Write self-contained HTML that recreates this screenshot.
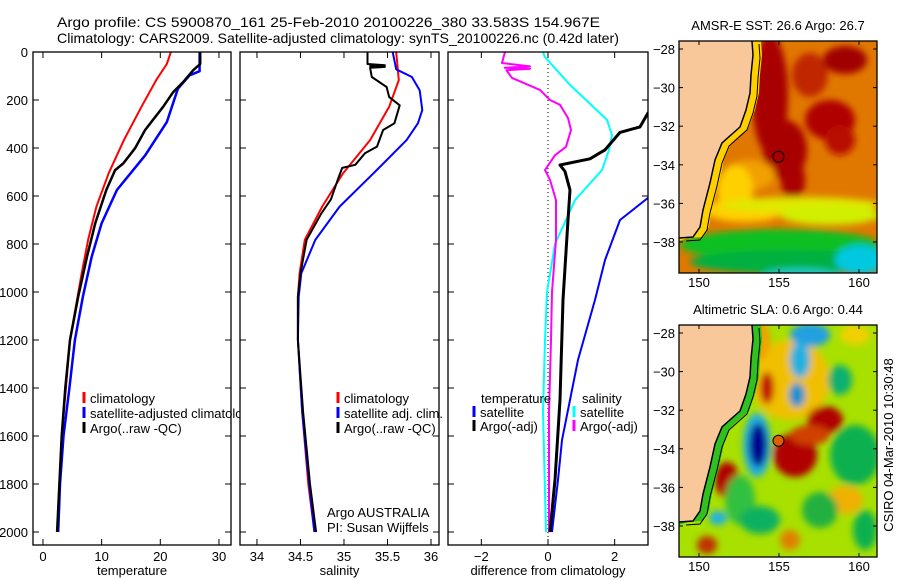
<!DOCTYPE html>
<html><head><meta charset="utf-8">
<style>
html,body{margin:0;background:#fff;overflow:hidden;width:900px;height:580px;}
svg{display:block;font-family:"Liberation Sans",sans-serif;}
text{fill:#000;}
</style></head>
<body>
<svg id="chart" width="900" height="580" viewBox="0 0 900 580" xmlns="http://www.w3.org/2000/svg">
<rect width="900" height="580" fill="#fff"/>
<text x="57" y="27" font-size="14" textLength="543" lengthAdjust="spacingAndGlyphs">Argo profile: CS 5900870_161 25-Feb-2010 20100226_380 33.583S 154.967E</text>
<text x="57" y="43" font-size="14" textLength="562" lengthAdjust="spacingAndGlyphs">Climatology: CARS2009. Satellite-adjusted climatology: synTS_20100226.nc (0.42d later)</text>
<g id="plots"></g>
<text transform="translate(893,445) rotate(-90)" text-anchor="middle" font-size="13">CSIRO 04-Mar-2010 10:30:48</text>
</svg>
<script>
// ---- depth axis ----
const depthTicks = [0,200,400,600,800,1000,1200,1400,1600,1800,2000];
// ---- temperature panel data (depth m, value) ----
const tempDepth = [0,50,117,228,367,505,644,783,922,1019,1200,1400,1600,1800,2000];
const tempClim = [21.8,21.1,19.3,16.8,13.8,11.2,9.1,7.7,6.6,5.9,4.6,3.9,3.2,2.8,2.5];
const argoTDepth = [0,50,76,125,167,228,325,401,464,492,575,714,853,1019,1200,1400,1600,1800,2000];
const argoTemp = [26.8,26.8,25.6,23.9,22.2,20.5,17.4,15.7,13.7,12.3,10.8,8.9,7.5,6.0,4.6,3.8,3.2,2.8,2.4];
const satTDepth = [0,80,97,153,292,431,575,714,853,1019,1200,1400,1600,1800,2000];
const satTemp = [26.7,26.7,25.0,23.0,21.1,17.4,12.6,10.0,8.3,6.8,5.45,4.5,3.5,2.9,2.6];
const tempTicks = [0,10,20,30];
// ---- salinity panel data ----
const salDepth = [0,117,228,367,505,644,783,922,1019,1200,1500,1800,2000];
const salClim = [35.6,35.63,35.52,35.3,34.99,34.75,34.55,34.49,34.47,34.47,34.52,34.59,34.66];
const satSDepth = [0,72,104,160,242,297,367,505,644,783,922,1019,1200,1500,1800,2000];
const satSal = [35.56,35.6,35.78,35.87,35.9,35.85,35.72,35.34,34.95,34.67,34.51,34.48,34.47,34.52,34.6,34.66];
const argoSDepth = [0,50,55,58,62,66,104,146,188,222,297,325,394,422,470,483,531,614,672,783,922,1019,1200,1500,1800,2000];
const argoSal = [35.27,35.27,35.47,35.3,35.47,35.3,35.32,35.49,35.52,35.64,35.58,35.45,35.38,35.24,35.13,34.98,34.93,34.85,34.74,34.57,34.5,34.47,34.47,34.53,34.61,34.68];
const salTicks = [34,34.5,35,35.5,36];
// ---- difference panel data ----
const dTArgoDepth = [150,254,312,335,408,420,445,471,498,575,700,1033,1450,1783,2000];
const dTArgo = [4.5,3.0,2.76,2.16,1.71,1.56,1.26,0.36,0.51,0.66,0.6,0.45,0.36,0.21,0.06];
const dTSatDepth = [450,608,700,867,1033,1283,1450,1617,1783,2000];
const dTSat = [4.0,3.0,2.16,1.71,1.41,0.9,0.66,0.42,0.3,0.12];
const dSSatDepth = [0,20,137,283,346,408,492,617,800,1000,1200,1500,2000];
const dSSat = [-0.15,-0.1,0.66,1.77,1.92,1.83,1.62,0.81,0.21,-0.03,-0.09,-0.15,-0.06];
const dSArgoDepth = [0,46,60,66,70,76,108,158,200,220,275,325,395,430,492,533,617,783,1000,1200,1500,2000];
const dSArgo = [-1.29,-1.38,-0.54,-1.3,-0.54,-1.25,-1.08,-0.24,0.06,0.36,0.6,0.69,0.54,0.21,-0.09,0.06,0.24,0.24,0.12,0.09,0.03,0.03];
const diffTicks = [-2,0,2];
// ---- maps ----
const lonTicks = [150,155,160];
const latTicks = [-28,-30,-32,-34,-36,-38];

const NS='http://www.w3.org/2000/svg';
const root=document.getElementById('plots');
function mk(tag,attrs,parent){const e=document.createElementNS(NS,tag);for(const k in attrs)e.setAttribute(k,attrs[k]);(parent||root).appendChild(e);return e;}
const Y0=52,Y1=545;
function yD(d){return 52+d*0.24;}

function panel(name,x0,x1,xmin,xmax,ticks,label,fmt){
  const g=mk('g',{});
  
  
  const sx=v=>x0+(v-xmin)/(xmax-xmin)*(x1-x0);
  mk('rect',{x:x0,y:Y0,width:x1-x0,height:Y1-Y0,fill:'#fff'},g);
  const cid='clip-'+name;
  const cp=mk('clipPath',{id:cid},g);mk('rect',{x:x0,y:Y0,width:x1-x0,height:Y1-Y0},cp);
  const inner=mk('g',{'clip-path':'url(#'+cid+')'},g);
  return {g,sx,inner,x0,x1,ticks,label,fmt};
}
function frame(p,showY){
  const g=p.g;
  const fr=mk('rect',{x:p.x0,y:Y0,width:p.x1-p.x0,height:Y1-Y0,fill:'none',stroke:'#000','stroke-width':1.3},g);
  
  
  depthTicks.forEach(d=>{
    const y=yD(d);
    mk('line',{x1:p.x0,x2:p.x0+6,y1:y,y2:y,stroke:'#000'},g);
    mk('line',{x1:p.x1-6,x2:p.x1,y1:y,y2:y,stroke:'#000'},g);
    if(showY){const t=mk('text',{x:p.x0-5,y:y+5,'text-anchor':'end','font-size':13},g);t.textContent=d;
      }
  });
  p.ticks.forEach(v=>{
    const x=p.sx(v);
    mk('line',{x1:x,x2:x,y1:Y0,y2:Y0+6,stroke:'#000'},g);
    mk('line',{x1:x,x2:x,y1:Y1-6,y2:Y1,stroke:'#000'},g);
    const t=mk('text',{x:x,y:561,'text-anchor':'middle','font-size':13},g);t.textContent=p.fmt?p.fmt(v):v;
    
  });
  const t=mk('text',{x:(p.x0+p.x1)/2,y:575,'text-anchor':'middle','font-size':13},g);t.textContent=p.label;
  
}
function line(p,vals,depths,color,w,name){
  const pts=vals.map((v,i)=>p.sx(v).toFixed(1)+','+yD(depths[i]).toFixed(1)).join(' ');
  const l=mk('polyline',{points:pts,fill:'none',stroke:color,'stroke-width':w,'stroke-linejoin':'round'},p.inner);
  
  
}
function legendRow(g,x,y,color,txt,name){
  if(color){mk('line',{x1:x,x2:x,y1:y-11,y2:y,stroke:color,'stroke-width':3},g);}
  const t=mk('text',{x:x+6,y:y,'font-size':13},g);t.textContent=txt;
  
}

// Panel 1
const p1=panel('temperature-panel',33,231,-1.7,32.05,tempTicks,'temperature');
line(p1,tempClim,tempDepth,'#f00',2,'temp-climatology-line');
line(p1,satTemp,satTDepth,'#00f',2.5,'temp-satellite-line');
line(p1,argoTemp,argoTDepth,'#000',2.5,'temp-argo-line');
const lg1=mk('g',{},p1.g);
legendRow(lg1,84,403,'#f00','climatology','legend-climatology');
legendRow(lg1,84,418,'#00f','satellite-adjusted climatology','legend-satellite');
legendRow(lg1,84,433,'#000','Argo(..raw -QC)','legend-argo');

// Panel 2
const p2=panel('salinity-panel',240,439,33.805,36.092,salTicks,'salinity');
line(p2,salClim,salDepth,'#f00',2,'sal-climatology-line');
line(p2,satSal,satSDepth,'#00f',2,'sal-satellite-line');
line(p2,argoSal,argoSDepth,'#000',2,'sal-argo-line');
const lg2=mk('g',{},p2.g);
legendRow(lg2,338,403,'#f00','climatology','legend-climatology');
legendRow(lg2,338,418,'#00f','satellite adj. clim.','legend-satellite');
legendRow(lg2,338,433,'#000','Argo(..raw -QC)','legend-argo');
legendRow(lg2,321,517,null,'Argo AUSTRALIA','program-label');
legendRow(lg2,321,532,null,'PI: Susan Wijffels','pi-label');

// Panel 3
const p3=panel('difference-panel',448,648,-3,3,diffTicks,'difference from climatology',v=>v<0?'\u2212'+(-v):v);
mk('line',{x1:p3.sx(0),x2:p3.sx(0),y1:Y0,y2:Y1,stroke:'#000','stroke-dasharray':'1,3'},p3.inner);
line(p3,dSSat,dSSatDepth,'#0ff',2,'sal-satellite-diff-line');
line(p3,dSArgo,dSArgoDepth,'#f0f',2,'sal-argo-diff-line');
line(p3,dTSat,dTSatDepth,'#00f',2,'temp-satellite-diff-line');
line(p3,dTArgo,dTArgoDepth,'#000',3,'temp-argo-diff-line');
const lg3=mk('g',{},p3.g);
legendRow(lg3,475,403,null,'temperature','legend-temp-heading');
legendRow(lg3,474,417,'#00f','satellite','legend-temp-satellite');
legendRow(lg3,474,431,'#000','Argo(-adj)','legend-temp-argo');
legendRow(lg3,576,403,null,'salinity','legend-sal-heading');
legendRow(lg3,574,417,'#0ff','satellite','legend-sal-satellite');
legendRow(lg3,574,431,'#f0f','Argo(-adj)','legend-sal-argo');
[p1,p2,p3].forEach((p,i)=>frame(p,i===0));

// ---- Maps ----
const coast=[[752,41],[753,55],[751,75],[750,93],[746,110],[740,127],[722,143],[715,160],[710,183],[703,210],[700,227],[693,237],[679,238]];
function map(name,top,title,bg,blobs,dot,shelfCol){
  const x0=679,x1=877,y0=top,y1=top+232;
  const lonX=l=>x0+20+(l-150)*16;
  const latY=l=>y0+8+(-28-l)*19.3;
  const g=mk('g',{});
  const cid='clip-'+name;const cp=mk('clipPath',{id:cid},g);mk('rect',{x:x0,y:y0,width:x1-x0,height:y1-y0},cp);
  const fid='blur-'+name;const f=mk('filter',{id:fid,x:'-50%',y:'-50%',width:'200%',height:'200%'},g);mk('feGaussianBlur',{stdDeviation:3.5},f);
  const inner=mk('g',{'clip-path':'url(#'+cid+')'},g);
  mk('rect',{x:x0,y:y0,width:x1-x0,height:y1-y0,fill:bg},inner);
  const bg2=mk('g',{filter:'url(#'+fid+')'},inner);
  blobs.forEach(b=>mk('ellipse',{cx:b[0],cy:b[1],rx:b[2],ry:b[3],fill:b[4]},bg2));
  const off=p=>p[1]-41+top;
  mk('polygon',{points:x0+','+y0+' '+coast.map(p=>(p[0]+9)+','+off(p)).join(' ')+' '+x0+','+(top+200),fill:shelfCol},inner);
  mk('polygon',{points:x0+','+y0+' '+coast.map(p=>p[0]+','+off(p)).join(' ')+' '+x0+','+(top+198),fill:'#f9c89a'},inner);
  mk('polyline',{points:coast.map(p=>p[0]+','+off(p)).join(' '),fill:'none',stroke:'#000','stroke-width':1.5},inner);
  mk('polyline',{points:coast.map(p=>(p[0]+7)+','+(off(p)+3)).join(' '),fill:'none',stroke:'#000','stroke-width':1},inner);
  const c=mk('circle',{cx:lonX(154.967),cy:latY(-33.583),r:5.5,fill:dot,stroke:'#000','stroke-width':1},inner);
  
  mk('rect',{x:x0,y:y0,width:x1-x0,height:y1-y0,fill:'none',stroke:'#000','stroke-width':1.3},g);
  const t=mk('text',{x:(x0+x1)/2,y:top-11,'text-anchor':'middle','font-size':13},g);t.textContent=title;
  
  lonTicks.forEach(l=>{const x=lonX(l);mk('line',{x1:x,x2:x,y1:y0,y2:y0+4,stroke:'#000'},g);mk('line',{x1:x,x2:x,y1:y1-4,y2:y1,stroke:'#000'},g);
    const tt=mk('text',{x:x,y:y1+14,'text-anchor':'middle','font-size':13},g);tt.textContent=l;
    });
  latTicks.forEach(l=>{const y=latY(l);mk('line',{x1:x0,x2:x0+4,y1:y,y2:y,stroke:'#000'},g);mk('line',{x1:x1-4,x2:x1,y1:y,y2:y,stroke:'#000'},g);
    const tt=mk('text',{x:x0-4,y:y+5,'text-anchor':'end','font-size':13},g);tt.textContent='\u2212'+(-l);
    });
}
map('sst-map',41,'AMSR-E SST: 26.6 Argo: 26.7','#e07800',[
 [770,95,18,60,'#a80000'],[785,150,22,30,'#a80000'],[793,180,12,22,'#a80000'],[830,120,25,20,'#b00000'],[810,75,18,22,'#c02800'],[845,60,22,14,'#a00000'],[840,140,15,15,'#b81000'],
 [750,175,25,15,'#f0a000'],[735,190,18,25,'#ffd000'],[745,210,40,12,'#ffd000'],[800,205,80,8,'#e0e800'],[830,215,50,10,'#d0f000'],
 [780,245,100,16,'#10c020'],[790,262,100,12,'#00b040'],[860,260,25,15,'#00c8e0'],[800,276,40,8,'#20c8c0']
],'none','#ffd000');
map('sla-map',325,'Altimetric SLA: 0.6 Argo: 0.44','#a8e000',[
 [790,380,40,40,'#f0c000'],[760,340,10,20,'#f0a000'],[810,335,20,12,'#20a0e0'],[800,360,10,18,'#20b0e0'],[797,395,8,12,'#1090d0'],
 [767,388,7,16,'#c00000'],
 [757,445,14,32,'#20b0e0'],[758,445,9,22,'#000090'],
 [795,455,22,22,'#b00000'],[825,420,18,14,'#b00000'],[810,435,20,10,'#d04000'],
 [727,480,12,18,'#b00000'],[718,518,9,7,'#20b0e0'],[707,545,10,9,'#c03000'],[790,540,10,10,'#e08000'],
 [855,455,25,30,'#10b050'],[845,500,18,14,'#f0b000'],[855,335,15,10,'#f0d000'],[840,380,12,15,'#10b070'],
 [740,500,15,25,'#30c040'],[760,520,20,14,'#10b060'],[820,510,18,18,'#20b040'],[700,460,10,40,'#60d030'],[865,530,12,20,'#10b050']
],'#e06000','#30c020');
</script>
</body></html>
